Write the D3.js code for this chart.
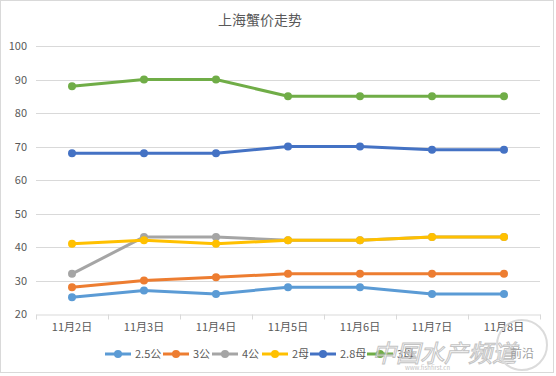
<!DOCTYPE html>
<html>
<head>
<meta charset="utf-8">
<script src="https://cdn.jsdelivr.net/npm/d3@7"></script>
<style>
  body { margin: 0; background: #fff; }
  text { font-family: "Noto Sans CJK SC", "DejaVu Sans", sans-serif; }
</style>
</head>
<body>
<div id="container"></div>
<script>
/* DATA */
const title = "上海蟹价走势";
const days = ["11月2日", "11月3日", "11月4日", "11月5日", "11月6日", "11月7日", "11月8日"];
const seriesNames = ["2.5公", "3公", "4公", "2母", "2.8母", "3母"];
const colors = ["#5B9BD5", "#ED7D31", "#A5A5A5", "#FFC000", "#4472C4", "#70AD47"];
const yTicks = [20, 30, 40, 50, 60, 70, 80, 90, 100];

const gong25 = [25, 27, 26, 28, 28, 26, 26];
const gong3 = [28, 30, 31, 32, 32, 32, 32];
const gong4 = [32, 43, 43, 42, 42, 43, 43];
const mu2 = [41, 42, 41, 42, 42, 43, 43];
const mu28 = [68, 68, 68, 70, 70, 69, 69];
const mu3 = [88, 90, 90, 85, 85, 85, 85];
const allValues = [gong25, gong3, gong4, mu2, mu28, mu3];

/* CONSTANTS */
const width = 556, height = 376;
const margin = {top: 46, bottom: 62, left: 36, right: 16};

const svg = d3.select("#container").append("svg")
  .attr("width", width)
  .attr("height", height);

// frame
svg.append("rect")
  .attr("x", 0.5).attr("y", 0.5)
  .attr("width", 553).attr("height", 372)
  .attr("fill", "#fff")
  .attr("stroke", "#d9d9d9");

// SCALES
const xScale = d3.scaleBand()
  .domain(days)
  .range([margin.left, width - margin.right]);

const yScale = d3.scaleLinear()
  .domain([20, 100])
  .range([height - margin.bottom, margin.top]);

// gridlines
svg.append("g")
  .selectAll("line")
  .data(yTicks.slice(1))
  .join("line")
  .attr("x1", margin.left)
  .attr("x2", width - margin.right)
  .attr("y1", d => Math.round(yScale(d)) + 0.5)
  .attr("y2", d => Math.round(yScale(d)) + 0.5)
  .attr("stroke", "#d9d9d9");

// y axis labels
const yAxis = d3.axisLeft(yScale).tickValues(yTicks).tickSize(0).tickPadding(9);
svg.append("g")
  .attr("transform", `translate(${margin.left},0)`)
  .call(yAxis)
  .call(g => g.select(".domain").remove())
  .selectAll("text")
  .attr("fill", "#595959")
  .style("font-size", "11px");

// x axis
const xAxis = d3.axisBottom(xScale).tickSize(0).tickPadding(9);
const xg = svg.append("g")
  .attr("transform", `translate(0,${yScale(20) + 0.5})`)
  .call(xAxis);
xg.select(".domain").attr("stroke", "#d9d9d9");
xg.selectAll("text").attr("fill", "#595959").style("font-size", "11px");

// category boundary ticks
const bounds = days.map(d => xScale(d)).concat([xScale(days[days.length - 1]) + xScale.bandwidth()]);
xg.append("g")
  .selectAll("line")
  .data(bounds)
  .join("line")
  .attr("x1", d => Math.round(d) + 0.5)
  .attr("x2", d => Math.round(d) + 0.5)
  .attr("y1", 0)
  .attr("y2", 5)
  .attr("stroke", "#d9d9d9");

// LINES
const line = d3.line()
  .x((d, i) => xScale(days[i]) + xScale.bandwidth() / 2)
  .y(d => yScale(d));

allValues.forEach((vals, s) => {
  const g = svg.append("g");
  g.append("path")
    .attr("d", line(vals))
    .attr("fill", "none")
    .attr("stroke", colors[s])
    .attr("stroke-width", 3)
    .attr("stroke-linejoin", "round")
    .attr("stroke-linecap", "round");
  g.selectAll("circle")
    .data(vals)
    .join("circle")
    .attr("cx", (d, i) => xScale(days[i]) + xScale.bandwidth() / 2)
    .attr("cy", d => yScale(d))
    .attr("r", 4)
    .attr("fill", colors[s]);
});

// title
svg.append("text")
  .attr("x", 260)
  .attr("y", 25)
  .attr("text-anchor", "middle")
  .attr("fill", "#595959")
  .style("font-size", "14px")
  .text(title);

// LEGEND
const legendX = [105, 163, 212, 262, 310, 367];
const legend = svg.append("g").attr("transform", "translate(0,354)");
seriesNames.forEach((name, s) => {
  const item = legend.append("g").attr("transform", `translate(${legendX[s]},0)`);
  item.append("line")
    .attr("x1", 0).attr("x2", 26)
    .attr("y1", 0).attr("y2", 0)
    .attr("stroke", colors[s])
    .attr("stroke-width", 3);
  item.append("circle")
    .attr("cx", 13).attr("cy", 0).attr("r", 4)
    .attr("fill", colors[s]);
  item.append("text")
    .attr("x", 30).attr("y", 4)
    .attr("fill", "#595959")
    .style("font-size", "11px")
    .text(name);
});

// watermark
const wm = svg.append("g").attr("opacity", 0.75);
wm.append("text")
  .attr("x", 372).attr("y", 362)
  .attr("fill", "#fff")
  .attr("stroke", "#b0b0b0")
  .attr("stroke-width", 1)
  .style("font-size", "24px")
  .style("font-style", "italic")
  .text("中国水产频道");
wm.append("text")
  .attr("x", 510).attr("y", 358)
  .attr("fill", "#808080")
  .style("font-size", "12px")
  .text("前沿");
wm.append("text")
  .attr("x", 405).attr("y", 370)
  .attr("fill", "#b0b0b0")
  .style("font-size", "6px")
  .text("www.fishfirst.cn");
wm.append("circle")
  .attr("cx", 522).attr("cy", 345).attr("r", 25)
  .attr("fill", "none")
  .attr("stroke", "#d0d0d0")
  .attr("stroke-width", 2);
</script>
</body>
</html>
